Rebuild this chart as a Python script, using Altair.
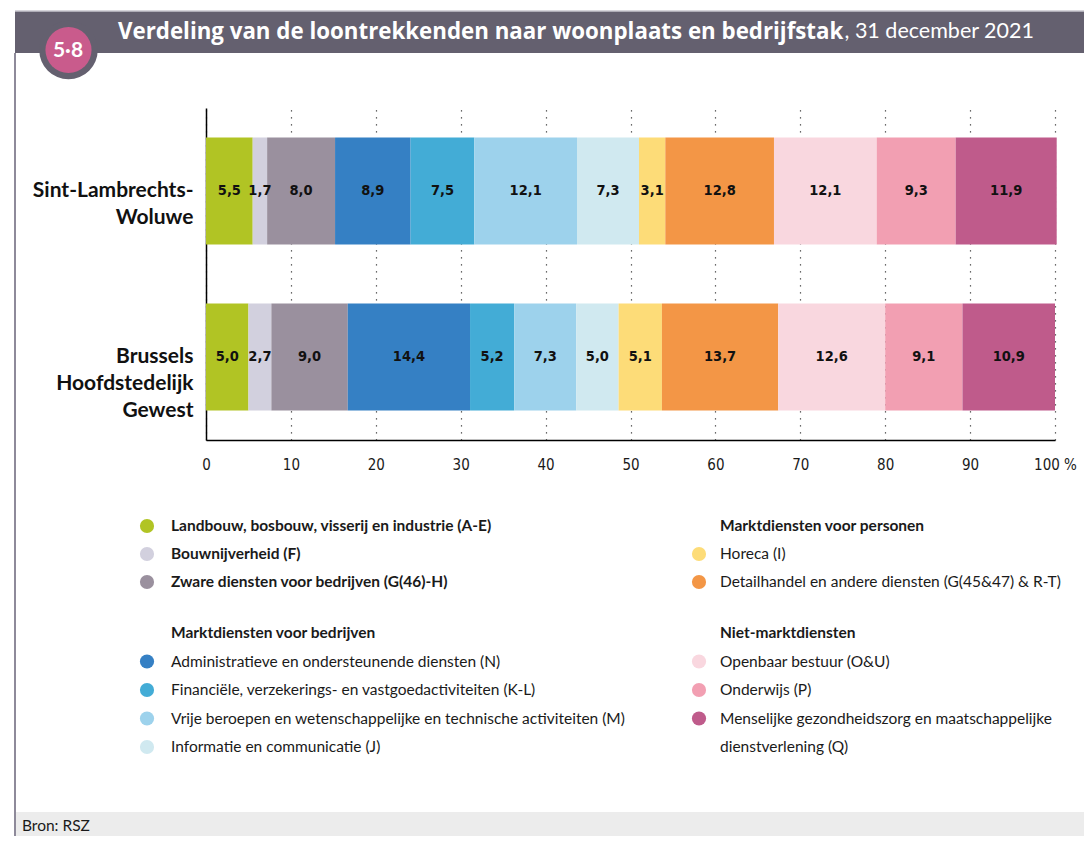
import json
import altair as alt
import pandas as pd

# ---------------- data ----------------
regions = ["Sint-Lambrechts-Woluwe", "Brussels Hoofdstedelijk Gewest"]
region_lines = [["Sint-Lambrechts-", "Woluwe"], ["Brussels", "Hoofdstedelijk", "Gewest"]]

sectors = [
    "Landbouw, bosbouw, visserij en industrie (A-E)",
    "Bouwnijverheid (F)",
    "Zware diensten voor bedrijven (G(46)-H)",
    "Administratieve en ondersteunende diensten (N)",
    "Financiële, verzekerings- en vastgoedactiviteiten (K-L)",
    "Vrije beroepen en wetenschappelijke en technische activiteiten (M)",
    "Informatie en communicatie (J)",
    "Horeca (I)",
    "Detailhandel en andere diensten (G(45&47) & R-T)",
    "Openbaar bestuur (O&U)",
    "Onderwijs (P)",
    "Menselijke gezondheidszorg en maatschappelijke dienstverlening (Q)",
]
values_slw = [5.5, 1.7, 8.0, 8.9, 7.5, 12.1, 7.3, 3.1, 12.8, 12.1, 9.3, 11.9]
values_bhg = [5.0, 2.7, 9.0, 14.4, 5.2, 7.3, 5.0, 5.1, 13.7, 12.6, 9.1, 10.9]

colors = [
    "#b1c424", "#d2d0de", "#9a909e", "#3580c4", "#43acd6", "#9dd2ec",
    "#d0e9f0", "#fddc78", "#f39646", "#f9d7df", "#f29fb2", "#bf5b8b",
]

x_ticks = [0, 10, 20, 30, 40, 50, 60, 70, 80, 90, 100]

title_bold = "Verdeling van de loontrekkenden naar woonplaats en bedrijfstak"
title_regular = ", 31 december 2021"
badge = "5·8"
source = "Bron: RSZ"

headings = ["Marktdiensten voor bedrijven", "Marktdiensten voor personen", "Niet-marktdiensten"]

# ---------------- tables ----------------
rows = []
for r, vals in zip(regions, [values_slw, values_bhg]):
    for i, (s, v) in enumerate(zip(sectors, vals)):
        rows.append({"region": r, "sector": s, "order": i, "value": v})
df = pd.DataFrame(rows)

# legend layout: (text, column, block, row, kind, sector index or None)
legend_layout = [
    (sectors[0], 0, 0, 0, "bold", 0),
    (sectors[1], 0, 0, 1, "bold", 1),
    (sectors[2], 0, 0, 2, "bold", 2),
    (headings[0], 0, 1, 0, "heading", None),
    (sectors[3], 0, 1, 1, "item", 3),
    (sectors[4], 0, 1, 2, "item", 4),
    (sectors[5], 0, 1, 3, "item", 5),
    (sectors[6], 0, 1, 4, "item", 6),
    (headings[1], 1, 0, 0, "heading", None),
    (sectors[7], 1, 0, 1, "item", 7),
    (sectors[8], 1, 0, 2, "item", 8),
    (headings[2], 1, 1, 0, "heading", None),
    (sectors[9], 1, 1, 1, "item", 9),
    (sectors[10], 1, 1, 2, "item", 10),
    ("Menselijke gezondheidszorg en maatschappelijke", 1, 1, 3, "item", 11),
    ("dienstverlening (Q)", 1, 1, 4, "cont", None),
]
col_sym_x = [-59, 493]
col_txt_x = [-35, 514]
block_y0 = [418, 525]
block_step = [28, 28.5]

leg_text, leg_sym = [], []
for text, c, b, rr, kind, si in legend_layout:
    y = block_y0[b] + block_step[b] * rr
    leg_text.append({"text": text, "px": col_txt_x[c], "py": y,
                     "bold": kind in ("bold", "heading")})
    if si is not None:
        leg_sym.append({"sector": sectors[si], "px": col_sym_x[c], "py": y})
leg_text = pd.DataFrame(leg_text)
leg_sym = pd.DataFrame(leg_sym)

one = pd.DataFrame({"a": [0]})

W, H = 849, 332
FONT = "Lato"
NARROW = "Liberation Sans Narrow, DejaVu Sans Condensed, sans-serif"

# ---------------- axis expressions ----------------
parts = []
for r, lines in zip(regions, region_lines):
    parts.append(f"datum.value == {json.dumps(r)} ? {json.dumps(lines)} : ")
y_label_expr = "".join(parts) + "datum.label"

x_scale = alt.Scale(domain=[0, 100], nice=False, zero=True)
y_scale = alt.Scale(domain=regions, paddingInner=0.355, paddingOuter=0.1775)

# ---------------- decoration ----------------
band = alt.Chart(one).mark_rect(color="#64606f").encode(
    x=alt.value(-191), x2=alt.value(878), y=alt.value(-97), y2=alt.value(-55))
band_top = alt.Chart(one).mark_rule(color="#c9c7cf", strokeWidth=1.5).encode(
    x=alt.value(-191), x2=alt.value(878), y=alt.value(-97))
vline = alt.Chart(one).mark_rule(color="#8e8a9a", strokeWidth=2).encode(
    x=alt.value(-191), y=alt.value(-55), y2=alt.value(728))
footer = alt.Chart(one).mark_rect(color="#ececec").encode(
    x=alt.value(-190), x2=alt.value(878), y=alt.value(704), y2=alt.value(728))
footer_text = alt.Chart(one).mark_text(
    text=source, align="left", baseline="middle", font=FONT, fontSize=15.5, color="#1a1a1a"
).encode(x=alt.value(-184), y=alt.value(718))
shadow = alt.Chart(one).mark_point(filled=True, shape="circle", size=3421, color="#64606f", opacity=1).encode(
    x=alt.value(-137.5), y=alt.value(-58))
pink = alt.Chart(one).mark_point(filled=True, shape="circle", size=2124, color="#c95b8c", opacity=1).encode(
    x=alt.value(-137.5), y=alt.value(-58))
badge_text = alt.Chart(one).mark_text(
    text=badge, align="center", baseline="middle", font=FONT, fontWeight="bold", fontSize=21, color="white"
).encode(x=alt.value(-138), y=alt.value(-57))
t_bold = alt.Chart(one).mark_text(
    text=title_bold, align="left", baseline="middle", font="Open Sans", fontWeight="bold", fontSize=22.3,
    color="white"
).encode(x=alt.value(-88), y=alt.value(-76))
t_reg = alt.Chart(one).mark_text(
    text=title_regular, align="right", baseline="middle", font=FONT, fontSize=21.5, color="white"
).encode(x=alt.value(828), y=alt.value(-76))

# ---------------- bars ----------------
base = alt.Chart(df).transform_stack(
    stack="value", as_=["x0", "x1"], groupby=["region"], sort=[alt.SortField("order", order="ascending")]
).transform_calculate(
    mid="(datum.x0 + datum.x1) / 2",
    lab="replace(format(datum.value, '.1f'), '.', ',')",
)

bars = base.mark_bar().encode(
    x=alt.X("x0:Q", scale=x_scale,
            axis=alt.Axis(values=x_ticks, title=None, grid=True, gridDash=[1.3, 5.7], gridColor="#3a3a3a",
                          gridWidth=1.2, ticks=False, domainColor="#000000", domainWidth=1.5,
                          labelFont=NARROW, labelFontSize=15, labelColor="#1a1a1a", labelPadding=17,
                          labelExpr="datum.value == 100 ? '100 %' : datum.label",
                          labelFlush=False, labelOverlap=False)),
    x2="x1:Q",
    y=alt.Y("region:N", scale=y_scale, sort=regions,
            axis=alt.Axis(title=None, ticks=False, domainColor="#000000", domainWidth=1.5,
                          labelFont=FONT, labelFontWeight="bold", labelFontSize=21, labelColor="#111111",
                          labelPadding=13, labelLineHeight=27, labelExpr=y_label_expr, labelLimit=0)),
    color=alt.Color("sector:N", scale=alt.Scale(domain=sectors, range=colors), legend=None),
)

labels = base.mark_text(font=NARROW, fontWeight="bold", fontSize=14.5, color="#111111", baseline="middle").encode(
    x=alt.X("mid:Q", scale=x_scale, axis=None),
    y=alt.Y("region:N", scale=y_scale, sort=regions, axis=None),
    text="lab:N",
)

# ---------------- legend ----------------
leg_symbols = alt.Chart(leg_sym).mark_point(filled=True, shape="circle", size=201, opacity=1).encode(
    x=alt.X("px:Q", scale=None, axis=None),
    y=alt.Y("py:Q", scale=None, axis=None),
    color=alt.Color("sector:N", scale=alt.Scale(domain=sectors, range=colors), legend=None),
)
leg_bold = alt.Chart(leg_text[leg_text["bold"]]).mark_text(
    align="left", baseline="middle", font=FONT, fontSize=15.5, fontWeight="bold", color="#1a1a1a"
).encode(
    x=alt.X("px:Q", scale=None, axis=None),
    y=alt.Y("py:Q", scale=None, axis=None),
    text="text:N",
)
leg_norm = alt.Chart(leg_text[~leg_text["bold"]]).mark_text(
    align="left", baseline="middle", font=FONT, fontSize=15.5, color="#1a1a1a"
).encode(
    x=alt.X("px:Q", scale=None, axis=None),
    y=alt.Y("py:Q", scale=None, axis=None),
    text="text:N",
)

chart = alt.layer(
    band, band_top, vline, footer, footer_text, shadow, pink, badge_text, t_bold, t_reg,
    bars, labels, leg_symbols, leg_bold, leg_norm,
).resolve_scale(
    x="independent", y="independent", color="independent"
).properties(
    width=W, height=H,
    autosize=alt.AutoSizeParams(type="none"),
    padding={"left": 198, "top": 100, "right": 29, "bottom": 396},
    background="white",
).configure_view(stroke=None)

chart.save("out.html", embed_options={"renderer": "svg", "actions": False})
